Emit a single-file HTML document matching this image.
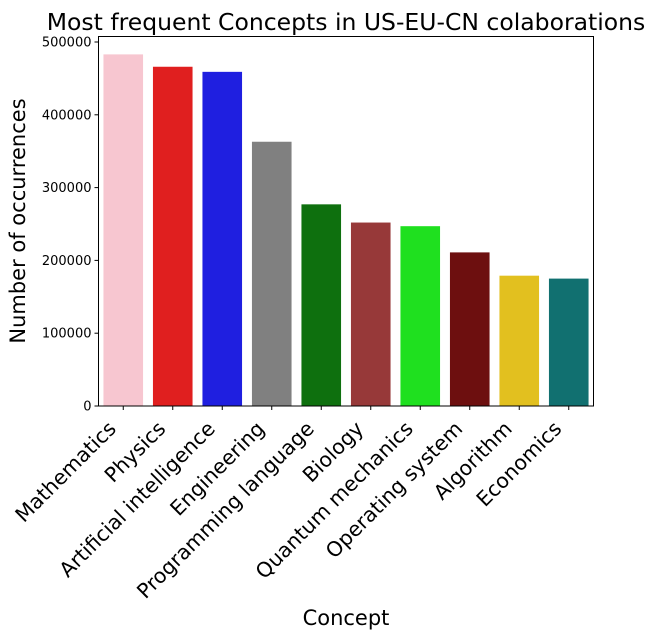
<!DOCTYPE html>
<html><head><meta charset="utf-8"><style>
body{margin:0;background:#fff}
svg text{font-family:"DejaVu Sans","Liberation Sans",sans-serif;fill:#000}
</style></head><body>
<svg id="chart" width="656" height="638" xmlns="http://www.w3.org/2000/svg">
<text x="346" y="30" font-size="23.5" text-anchor="middle">Most frequent Concepts in US-EU-CN colaborations</text>
<text x="346" y="625" font-size="21" text-anchor="middle">Concept</text>
<text transform="translate(25,221) rotate(-90)" font-size="21" text-anchor="middle">Number of occurrences</text>
<g id="bars"></g><g id="ticks"></g>
<rect x="98.5" y="36.5" width="495" height="369.5" fill="none" stroke="#000" stroke-width="1"/>
</svg>
<script>
const categories=["Mathematics","Physics","Artificial intelligence","Engineering","Programming language","Biology","Quantum mechanics","Operating system","Algorithm","Economics"];
const values=[483000,466000,459000,363000,277000,252000,247000,211000,179000,175000];
const colors=["#f7c6d0","#e01f1f","#1f1fe0","#808080","#0e700e","#973939","#1fe01f","#6d0f0f","#e2c01f","#117070"];
const yTicks=[0,100000,200000,300000,400000,500000];
const L=98.5,R=593.5,B=406,S=72.8/100000;
const NS="http://www.w3.org/2000/svg";
const y=v=>B-v*S;
const bw=(R-L)/categories.length;
const xc=i=>L+bw*(i+0.5);
const bars=document.getElementById('bars'),ticks=document.getElementById('ticks');
function mk(t,a,p){const e=document.createElementNS(NS,t);for(const k in a)e.setAttribute(k,a[k]);p.appendChild(e);return e;}
categories.forEach((c,i)=>{
 const r=mk('rect',{x:xc(i)-bw*0.4,y:y(values[i]),width:bw*0.8,height:B-y(values[i]),fill:colors[i]},bars);
 
 
 mk('line',{x1:xc(i),x2:xc(i),y1:B,y2:B+4,stroke:'#000'},ticks);
 const t=mk('text',{transform:`translate(${xc(i)-6},${B+24}) rotate(-45)`,'font-size':20.5,'text-anchor':'end'},ticks);
 t.textContent=c;
 
 
});
yTicks.forEach(v=>{
 mk('line',{x1:L-4,x2:L,y1:y(v),y2:y(v),stroke:'#000'},ticks);
 const t=mk('text',{x:L-7,y:y(v)+4.5,'font-size':13,'text-anchor':'end'},ticks);
 t.textContent=v;
 
 
});
</script>
</body></html>
